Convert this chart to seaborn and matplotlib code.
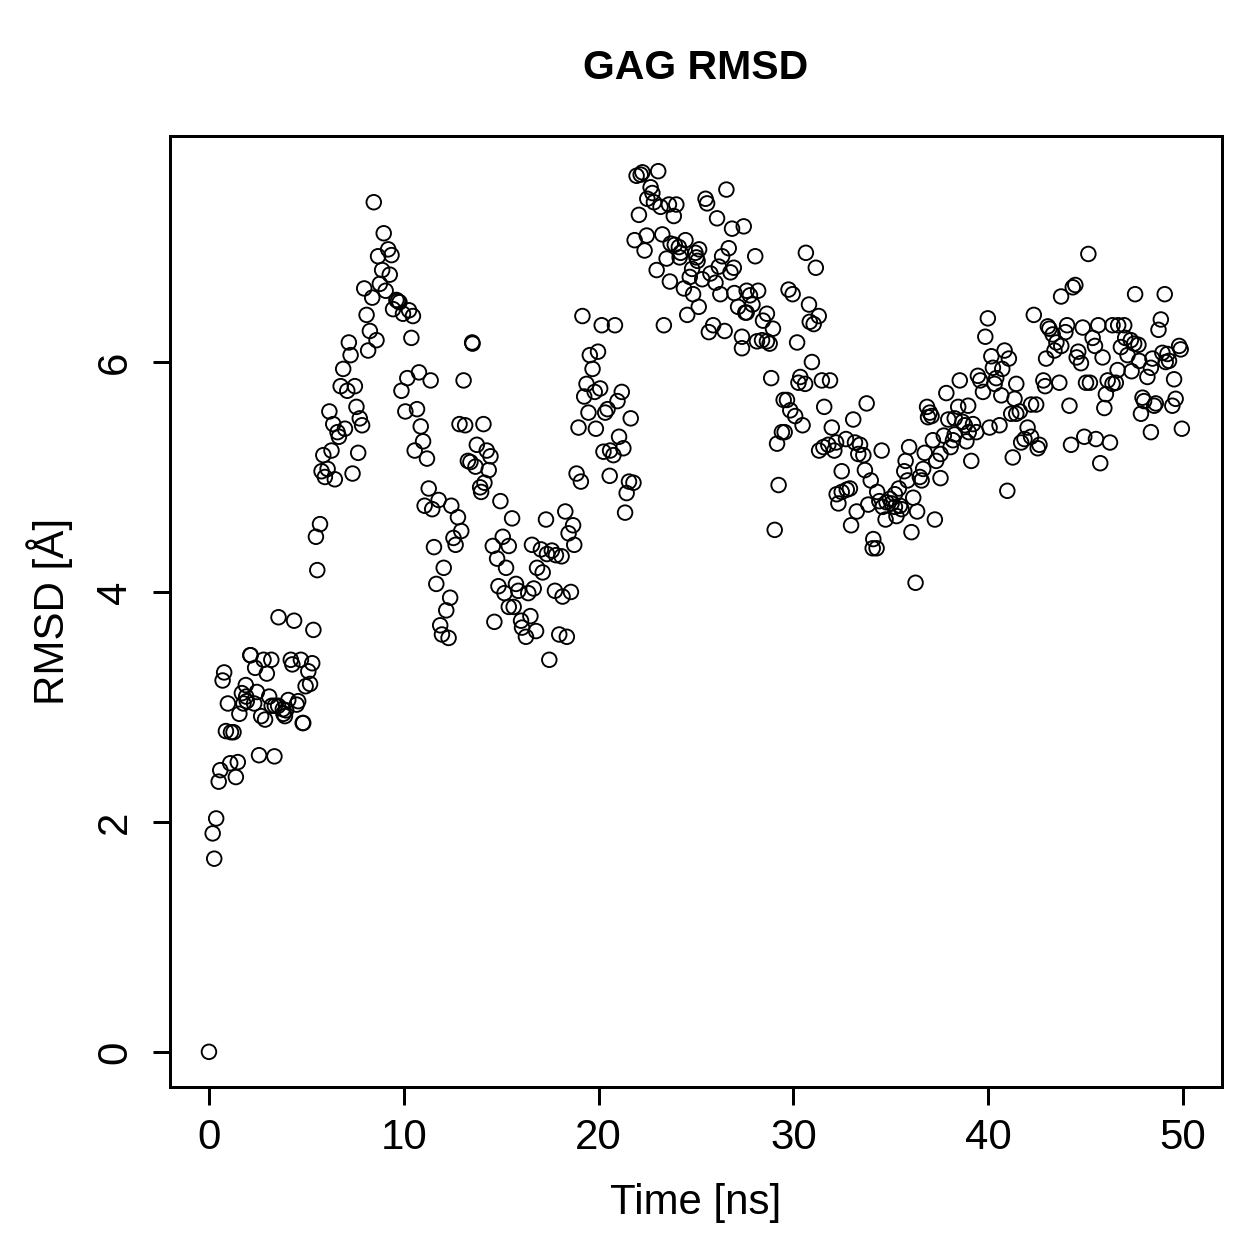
import numpy as np
import pandas as pd
import matplotlib
matplotlib.use("Agg")
import matplotlib.pyplot as plt
import seaborn as sns

# RMSD values, split by time window
# 0 - 12 ns
time_a = [0.0, 0.19, 0.27, 0.37, 0.5, 0.58, 0.7, 0.78, 0.87, 0.97,
          1.09, 1.13, 1.26, 1.38, 1.48, 1.56, 1.69, 1.77, 1.89, 1.91, 1.94,
          2.12, 2.14, 2.32, 2.37, 2.46, 2.57, 2.68, 2.8, 2.88, 2.97,
          3.09, 3.2, 3.22, 3.36, 3.38, 3.55, 3.57, 3.79, 3.82, 3.9, 3.96,
          4.07, 4.2, 4.28, 4.37, 4.5, 4.58, 4.72, 4.81, 4.84, 4.96,
          5.1, 5.19, 5.3, 5.36, 5.49, 5.56, 5.7, 5.78, 5.87, 5.95,
          6.09, 6.18, 6.29, 6.38, 6.46, 6.6, 6.67, 6.76, 6.89, 6.98,
          7.1, 7.18, 7.27, 7.37, 7.49, 7.57, 7.66, 7.74, 7.86, 7.97,
          8.09, 8.17, 8.26, 8.38, 8.46, 8.6, 8.68, 8.77, 8.89, 8.97,
          9.07, 9.2, 9.28, 9.37, 9.45, 9.62, 9.7, 9.78, 9.88, 9.96,
          10.08, 10.18, 10.27, 10.39, 10.47, 10.56, 10.68, 10.78, 10.87, 10.99,
          11.07, 11.19, 11.28, 11.38, 11.46, 11.55, 11.67, 11.79, 11.87, 11.96]
rmsd_a = [0.00, 1.90, 1.68, 2.03, 2.35, 2.45, 3.23, 3.30, 2.79, 3.03,
          2.51, 2.78, 2.78, 2.39, 2.52, 2.94, 3.12, 3.03, 3.19, 3.09, 3.05,
          3.45, 3.45, 3.03, 3.34, 3.13, 2.58, 2.92, 3.41, 2.89, 3.29,
          3.09, 3.41, 3.01, 2.57, 3.01, 3.01, 3.78, 2.98, 2.94, 2.92, 2.97,
          3.06, 3.41, 3.37, 3.75, 3.02, 3.05, 3.41, 2.86, 2.86, 3.18,
          3.31, 3.20, 3.38, 3.67, 4.48, 4.19, 4.59, 5.05, 5.19, 5.00,
          5.07, 5.57, 5.23, 5.46, 4.98, 5.39, 5.35, 5.79, 5.94, 5.42,
          5.75, 6.17, 6.06, 5.03, 5.79, 5.61, 5.21, 5.51, 5.45, 6.64,
          6.41, 6.10, 6.27, 6.56, 7.39, 6.19, 6.92, 6.68, 6.80, 7.12,
          6.62, 6.98, 6.76, 6.93, 6.46, 6.54, 6.53, 6.52, 5.75, 6.42,
          5.57, 5.86, 6.45, 6.21, 6.40, 5.23, 5.59, 5.91, 5.44, 5.31,
          4.75, 5.16, 4.90, 5.84, 4.72, 4.39, 4.07, 4.80, 3.71, 3.63]

# 12 - 22 ns
time_b = [12.05, 12.18, 12.3, 12.38, 12.44, 12.55, 12.66, 12.78, 12.86, 12.95,
          13.07, 13.15, 13.29, 13.42, 13.51, 13.53, 13.68, 13.75, 13.92, 13.97,
          14.09, 14.14, 14.26, 14.36, 14.45, 14.57, 14.65, 14.79, 14.86, 14.96,
          15.08, 15.17, 15.25, 15.39, 15.39, 15.56, 15.64, 15.76, 15.88,
          16.02, 16.07, 16.27, 16.39, 16.5, 16.58, 16.67, 16.79, 16.84,
          17.04, 17.13, 17.3, 17.35, 17.47, 17.6, 17.76, 17.81, 17.98,
          18.1, 18.15, 18.29, 18.37, 18.46, 18.58, 18.69, 18.75, 18.87, 18.97,
          19.09, 19.17, 19.26, 19.38, 19.48, 19.55, 19.69, 19.8, 19.86, 19.97,
          20.08, 20.16, 20.25, 20.34, 20.46, 20.57, 20.59, 20.76, 20.84, 20.97,
          21.05, 21.19, 21.27, 21.36, 21.44, 21.56, 21.65, 21.79]
rmsd_b = [4.21, 3.84, 3.60, 3.95, 4.75, 4.47, 4.41, 4.65, 5.46, 4.53,
          5.84, 5.45, 5.14, 5.13, 6.17, 6.16, 5.09, 5.28, 4.91, 4.87,
          5.46, 4.95, 5.23, 5.06, 5.18, 4.40, 3.74, 4.29, 4.05, 4.79,
          4.48, 3.99, 4.21, 4.40, 3.87, 4.64, 3.87, 4.07, 4.01,
          3.75, 3.69, 3.61, 3.99, 3.79, 4.41, 4.03, 3.66, 4.21,
          4.37, 4.17, 4.63, 4.33, 3.41, 4.36, 4.01, 4.32, 3.63,
          4.31, 3.96, 4.70, 3.61, 4.51, 4.00, 4.58, 4.41, 5.03, 5.43,
          4.96, 6.40, 5.70, 5.81, 5.56, 6.06, 5.94, 5.74, 5.42, 6.09,
          5.77, 6.32, 5.22, 5.56, 5.59, 5.01, 5.23, 5.19, 6.32, 5.66,
          5.35, 5.74, 5.25, 4.69, 4.86, 4.96, 5.51, 4.95]

# 22 - 34.5 ns
time_c = [21.85, 21.95, 22.07, 22.16, 22.25, 22.36, 22.47, 22.5, 22.67, 22.76,
          22.84, 22.98, 23.06, 23.18, 23.27, 23.35, 23.49, 23.61, 23.66, 23.7,
          23.86, 23.91, 23.99, 24.12, 24.16, 24.21, 24.38, 24.46, 24.55, 24.68,
          24.8, 24.85, 24.97, 25.02, 25.08, 25.14, 25.16, 25.32, 25.49, 25.57,
          25.66, 25.74, 25.88, 26.0, 26.08, 26.17, 26.25, 26.34, 26.47, 26.56,
          26.68, 26.77, 26.85, 26.94, 26.97, 27.16, 27.36, 27.36, 27.45, 27.53,
          27.6, 27.6, 27.77, 27.9, 28.04, 28.13, 28.19, 28.39, 28.44, 28.64,
          28.64, 28.78, 28.86, 28.95, 29.04, 29.16, 29.24, 29.41, 29.5, 29.55,
          29.67, 29.75, 29.84, 29.96, 30.09, 30.19, 30.26, 30.35, 30.47, 30.6,
          30.64, 30.8, 30.84, 30.95, 31.04, 31.15, 31.3, 31.32, 31.46, 31.54,
          31.58, 31.79, 31.88, 31.97, 32.1, 32.19, 32.22, 32.31, 32.48, 32.48,
          32.7, 32.74, 32.9, 32.96, 33.07, 33.16, 33.25, 33.33, 33.42, 33.59,
          33.67, 33.76, 33.84, 33.97, 34.07, 34.1, 34.27, 34.3, 34.41, 34.53]
rmsd_c = [7.06, 7.62, 7.28, 7.63, 7.65, 6.97, 7.10, 7.42, 7.52, 7.47,
          7.39, 6.80, 7.66, 7.35, 7.11, 6.32, 6.90, 7.37, 6.70, 7.03,
          7.27, 7.02, 7.37, 7.00, 6.91, 6.95, 6.64, 7.06, 6.41, 6.74,
          6.81, 6.59, 6.95, 6.91, 6.88, 6.48, 6.98, 6.72, 7.42, 7.38,
          6.26, 6.77, 6.32, 6.69, 7.25, 6.83, 6.59, 6.92, 6.27, 7.50,
          6.99, 6.78, 7.16, 6.82, 6.60, 6.48, 6.22, 6.12, 7.18, 6.43,
          6.62, 6.43, 6.58, 6.50, 6.92, 6.18, 6.62, 6.19, 6.36, 6.42,
          6.18, 6.16, 5.86, 6.29, 4.54, 5.29, 4.93, 5.39, 5.67, 5.39,
          5.67, 6.63, 5.58, 6.59, 5.53, 6.17, 5.82, 5.87, 5.45, 5.81,
          6.95, 6.50, 6.35, 6.00, 6.33, 6.82, 6.40, 5.23, 5.84, 5.26,
          5.61, 5.28, 5.84, 5.43, 5.23, 5.30, 4.85, 4.77, 5.05, 4.87,
          5.33, 4.89, 4.90, 4.58, 5.50, 5.30, 4.70, 5.20, 5.28, 5.19,
          5.06, 5.64, 4.76, 4.97, 4.38, 4.46, 4.38, 4.87, 4.79, 5.23]

# 34.5 - 50 ns
time_d = [34.58, 34.73, 34.78, 34.95, 35.04, 35.21, 35.21, 35.29, 35.41, 35.47,
          35.55, 35.69, 35.76, 35.86, 35.94, 36.06, 36.15, 36.27, 36.35, 36.49,
          36.58, 36.66, 36.74, 36.86, 36.91, 37.0, 37.09, 37.16, 37.26, 37.33,
          37.55, 37.55, 37.72, 37.85, 37.95, 38.07, 38.19, 38.28, 38.28, 38.46,
          38.54, 38.68, 38.8, 38.88, 38.97, 39.0, 39.13, 39.22, 39.39, 39.47,
          39.59, 39.73, 39.85, 39.98, 40.07, 40.16, 40.24, 40.33, 40.41, 40.58,
          40.67, 40.72, 40.84, 40.98, 41.06, 41.18, 41.26, 41.35, 41.44, 41.44,
          41.62, 41.69, 41.86, 42.02, 42.2, 42.2, 42.34, 42.46, 42.54, 42.63,
          42.83, 42.92, 42.97, 43.06, 43.14, 43.31, 43.4, 43.5, 43.65, 43.74,
          43.75, 43.96, 44.05, 44.17, 44.25, 44.34, 44.47, 44.54, 44.62, 44.76,
          44.85, 44.93, 45.02, 45.14, 45.22, 45.36, 45.48, 45.53, 45.65, 45.75,
          45.87, 45.96, 46.04, 46.13, 46.25, 46.38, 46.38, 46.55, 46.64, 46.67,
          46.81, 46.98, 47.03, 47.15, 47.32, 47.36, 47.49, 47.54, 47.71, 47.75,
          47.84, 47.92, 48.0, 48.17, 48.35, 48.35, 48.43, 48.52, 48.6, 48.74,
          48.86, 48.94, 49.06, 49.11, 49.2, 49.28, 49.45, 49.54, 49.62, 49.8,
          49.88, 49.94]
rmsd_d = [4.74, 4.63, 4.78, 4.81, 4.77, 4.85, 4.74, 4.66, 4.90, 4.75,
          4.72, 5.05, 5.14, 4.97, 5.26, 4.52, 4.82, 4.08, 4.70, 5.00,
          4.97, 5.07, 5.21, 5.61, 5.52, 5.56, 5.53, 5.32, 4.63, 5.14,
          5.20, 4.99, 5.36, 5.73, 5.50, 5.26, 5.32, 5.51, 5.37, 5.61,
          5.84, 5.48, 5.45, 5.31, 5.62, 5.39, 5.14, 5.46, 5.39, 5.88,
          5.84, 5.74, 6.22, 6.38, 5.43, 6.05, 5.95, 5.81, 5.86, 5.45,
          5.71, 5.94, 6.10, 4.88, 6.03, 5.55, 5.17, 5.68, 5.81, 5.55,
          5.57, 5.30, 5.33, 5.43, 5.63, 5.35, 6.41, 5.63, 5.25, 5.28,
          5.84, 5.79, 6.03, 6.31, 6.29, 6.24, 6.10, 6.17, 5.82, 6.57,
          6.14, 6.26, 6.32, 5.62, 5.28, 6.65, 6.67, 6.04, 6.09, 5.99,
          6.30, 5.35, 5.82, 6.94, 5.82, 6.21, 6.14, 5.33, 6.32, 5.12,
          6.04, 5.60, 5.72, 5.84, 5.30, 6.32, 5.81, 5.82, 5.93, 6.32,
          6.13, 6.32, 6.21, 6.06, 6.19, 5.92, 6.16, 6.59, 6.15, 6.01,
          5.55, 5.69, 5.66, 5.87, 5.95, 5.39, 6.03, 5.62, 5.64, 6.28,
          6.37, 6.08, 6.59, 6.00, 6.07, 6.01, 5.62, 5.85, 5.68, 6.14,
          6.11, 5.42]

df = pd.DataFrame({
    "time": time_a + time_b + time_c + time_d,
    "rmsd": rmsd_a + rmsd_b + rmsd_c + rmsd_d,
})

sns.set_style("ticks")
plt.rcParams["font.family"] = ["Liberation Sans", "DejaVu Sans"]
plt.rcParams["text.color"] = "black"
plt.rcParams["axes.labelcolor"] = "black"

W = 1259
fig = plt.figure(figsize=(W / 180, W / 180), dpi=180)
ax = fig.add_axes([170 / W, 172 / W, (1222 - 170) / W, (1087 - 136) / W])

sns.scatterplot(data=df, x="time", y="rmsd", ax=ax, marker="o", s=34,
                facecolors="none", edgecolor="black", linewidth=0.75)

ax.set_xlim(-2, 52)
ax.set_ylim(-0.306, 7.966)
ax.set_xticks([0, 10, 20, 30, 40, 50])
ax.set_yticks([0, 2, 4, 6])

for sp in ax.spines.values():
    sp.set_visible(True)
    sp.set_linewidth(1.2)
    sp.set_color("black")

ax.tick_params(axis="both", direction="out", length=7, width=1.2,
               labelsize=16.8, colors="black", pad=5.5)
ax.tick_params(axis="y", pad=7)
for lab in ax.get_yticklabels():
    lab.set_rotation(90)
    lab.set_va("center")

ax.set_xlabel("Time [ns]", fontsize=16.8, color="black")
ax.set_ylabel("RMSD [Å]", fontsize=16.8, color="black")
ax.xaxis.set_label_coords(0.5, (1087 - 1203) / 951)
ax.xaxis.label.set_va("center")
ax.yaxis.set_label_coords((50 - 170) / 1052, 0.5)
ax.yaxis.label.set_va("center")

ax.text(0.5, (1087 - 68) / 951, "GAG RMSD", transform=ax.transAxes,
        ha="center", va="center", fontsize=16.4, fontweight="bold",
        color="black")

fig.savefig("out.png", dpi=180, facecolor="white")
